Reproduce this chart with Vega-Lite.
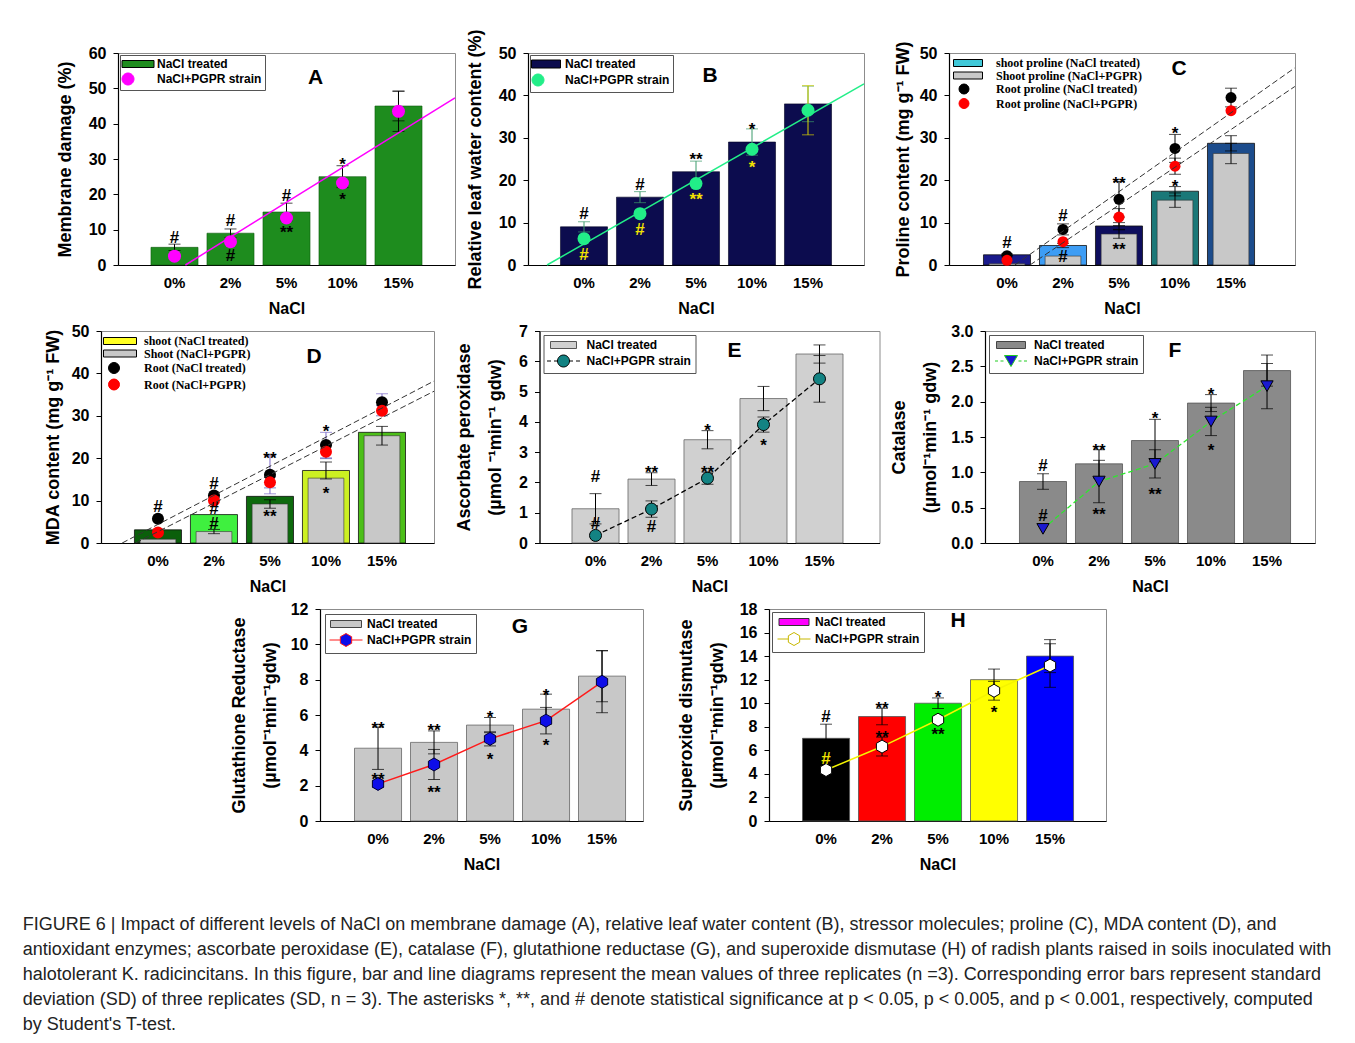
{
"$schema": "https://vega.github.io/schema/vega-lite/v6.json",
"padding": {"left": 22, "top": 28, "right": 5, "bottom": 5},
"datasets": {
"A": [
{"nacl":"0%","bar":5,"be":0.9,"pt":2.5,"pe":0},
{"nacl":"2%","bar":9,"be":1.2,"pt":6.6,"pe":0},
{"nacl":"5%","bar":15,"be":2.5,"pt":13.3,"pe":0},
{"nacl":"10%","bar":25,"be":3.1,"pt":23.2,"pe":0},
{"nacl":"15%","bar":45,"be":4.2,"pt":43.5,"pe":5.7}],
"Aa": [
{"nacl":"0%","y":7.6,"t":"#","g":"k"},
{"nacl":"2%","y":12.4,"t":"#","g":"k"},
{"nacl":"2%","y":2.5,"t":"#","g":"k"},
{"nacl":"5%","y":19.6,"t":"#","g":"k"},
{"nacl":"5%","y":10.5,"t":"**","g":"k"},
{"nacl":"10%","y":29.7,"t":"*","g":"k"},
{"nacl":"10%","y":19.9,"t":"*","g":"k"},
{"nacl":"5%","y":52.9,"t":"A","g":"L"}],
"Al": [{"u":1.2,"v":0},{"u":6,"v":47.3}],
"B": [
{"nacl":"0%","bar":9,"be":1.2,"pt":6.2,"pe":0},
{"nacl":"2%","bar":16,"be":1.3,"pt":12.1,"pe":0},
{"nacl":"5%","bar":22,"be":2.5,"pt":19.2,"pe":0},
{"nacl":"10%","bar":29,"be":3.1,"pt":27.3,"pe":0},
{"nacl":"15%","bar":38,"be":4.2,"pt":36.5,"pe":5.8}],
"Ba": [
{"nacl":"0%","y":12.1,"t":"#","g":"k"},{"nacl":"0%","y":2.3,"t":"#","g":"y"},
{"nacl":"2%","y":18.8,"t":"#","g":"k"},{"nacl":"2%","y":8.3,"t":"#","g":"y"},
{"nacl":"5%","y":25.9,"t":"**","g":"k"},{"nacl":"5%","y":16.4,"t":"**","g":"y"},
{"nacl":"10%","y":33.1,"t":"*","g":"k"},{"nacl":"10%","y":24.1,"t":"*","g":"y"},
{"nacl":"5%","y":44.6,"t":"B","g":"L"}],
"Bl": [{"u":0.34,"v":0},{"u":6,"v":42.7}],
"C": [
{"nacl":"0%","out":2.4,"oe":0.2,"inn":0.3,"ie":0,"r1":2.2,"r1e":0,"r2":1.1,"r2e":0},
{"nacl":"2%","out":4.6,"oe":0.5,"inn":2.1,"ie":0,"r1":8.4,"r1e":1.3,"r2":5.5,"r2e":0},
{"nacl":"5%","out":9.2,"oe":0.8,"inn":7.3,"ie":1.0,"r1":15.5,"r1e":4.2,"r2":11.3,"r2e":2.0},
{"nacl":"10%","out":17.4,"oe":1.1,"inn":15.3,"ie":1.7,"r1":27.5,"r1e":3.3,"r2":23.3,"r2e":1.9},
{"nacl":"15%","out":28.7,"oe":1.8,"inn":26.3,"ie":2.4,"r1":39.5,"r1e":2.2,"r2":36.4,"r2e":0}],
"Ca": [
{"nacl":"0%","y":5.1,"t":"#","g":"k"},
{"nacl":"2%","y":11.6,"t":"#","g":"k"},{"nacl":"2%","y":2.0,"t":"#","g":"k"},
{"nacl":"5%","y":20.3,"t":"**","g":"k"},{"nacl":"5%","y":4.7,"t":"**","g":"k"},
{"nacl":"10%","y":32.1,"t":"*","g":"k"},{"nacl":"10%","y":19.6,"t":"*","g":"k"},
{"nacl":"10%","y":46.2,"t":"C","g":"L"}],
"Cl": [{"k":"u","u":1.14,"v":0},{"k":"u","u":6.14,"v":46.5},{"k":"l","u":1.41,"v":0},{"k":"l","u":6.14,"v":42.1}],
"D": [
{"nacl":"0%","out":3.1,"oe":0,"inn":0.9,"ie":0,"r1":5.7,"r1e":0,"r2":2.5,"r2e":0},
{"nacl":"2%","out":6.7,"oe":0,"inn":2.7,"ie":0.5,"r1":11.2,"r1e":0,"r2":10.0,"r2e":0},
{"nacl":"5%","out":11.0,"oe":0,"inn":9.2,"ie":1.0,"r1":16.1,"r1e":4.5,"r2":14.3,"r2e":1.3},
{"nacl":"10%","out":17.1,"oe":2.0,"inn":15.3,"ie":0,"r1":23.1,"r1e":3.0,"r2":21.5,"r2e":1.6},
{"nacl":"15%","out":26.1,"oe":0,"inn":25.3,"ie":2.2,"r1":33.2,"r1e":2.0,"r2":31.2,"r2e":1.2}],
"Da": [
{"nacl":"0%","y":8.4,"t":"#","g":"k"},
{"nacl":"2%","y":13.9,"t":"#","g":"k"},{"nacl":"2%","y":8.0,"t":"#","g":"k"},{"nacl":"2%","y":4.5,"t":"#","g":"k"},
{"nacl":"5%","y":21.0,"t":"**","g":"k"},{"nacl":"5%","y":7.2,"t":"**","g":"k"},
{"nacl":"10%","y":27.3,"t":"*","g":"k"},{"nacl":"10%","y":12.7,"t":"*","g":"k"},
{"nacl":"5%","y":43.9,"t":"D","g":"L"}],
"Dl": [{"k":"u","u":0.36,"v":0},{"k":"u","u":5.93,"v":38.2},{"k":"l","u":0.6,"v":0},{"k":"l","u":5.93,"v":35.8}],
"E": [
{"nacl":"0%","bar":1.13,"be":0.5,"pt":0.25,"pe":0},
{"nacl":"2%","bar":2.11,"be":0.21,"pt":1.12,"pe":0.27},
{"nacl":"5%","bar":3.41,"be":0.3,"pt":2.14,"pe":0.2},
{"nacl":"10%","bar":4.77,"be":0.4,"pt":3.91,"pe":0.25},
{"nacl":"15%","bar":6.24,"be":0.3,"pt":5.42,"pe":0.77}],
"Ea": [
{"nacl":"0%","y":2.17,"t":"#","g":"k"},{"nacl":"0%","y":0.62,"t":"#","g":"k"},
{"nacl":"2%","y":2.48,"t":"**","g":"k"},{"nacl":"2%","y":0.52,"t":"#","g":"k"},
{"nacl":"5%","y":3.85,"t":"*","g":"k"},{"nacl":"5%","y":2.48,"t":"**","g":"k"},
{"nacl":"10%","y":3.38,"t":"*","g":"k"},
{"nacl":"5%","y":6.34,"t":"E","g":"L"}],
"F": [
{"nacl":"0%","bar":0.87,"be":0.11,"pt":0.2,"pe":0},
{"nacl":"2%","bar":1.12,"be":0.2,"pt":0.87,"pe":0.3},
{"nacl":"5%","bar":1.45,"be":0.3,"pt":1.12,"pe":0.2},
{"nacl":"10%","bar":1.98,"be":0.12,"pt":1.72,"pe":0.2},
{"nacl":"15%","bar":2.44,"be":0.22,"pt":2.22,"pe":0.32}],
"Fa": [
{"nacl":"0%","y":1.09,"t":"#","g":"k"},{"nacl":"0%","y":0.38,"t":"#","g":"k"},
{"nacl":"2%","y":1.37,"t":"**","g":"k"},{"nacl":"2%","y":0.46,"t":"**","g":"k"},
{"nacl":"5%","y":1.82,"t":"*","g":"k"},{"nacl":"5%","y":0.75,"t":"**","g":"k"},
{"nacl":"10%","y":2.17,"t":"*","g":"k"},{"nacl":"10%","y":1.37,"t":"*","g":"k"},
{"nacl":"5%","y":2.72,"t":"F","g":"L"}],
"G": [
{"nacl":"0%","bar":4.12,"be":1.2,"pt":2.1,"pe":0.2},
{"nacl":"2%","bar":4.45,"be":0.65,"pt":3.2,"pe":0.85},
{"nacl":"5%","bar":5.43,"be":0.43,"pt":4.65,"pe":0.4},
{"nacl":"10%","bar":6.33,"be":0.85,"pt":5.68,"pe":0.75},
{"nacl":"15%","bar":8.2,"be":1.45,"pt":7.88,"pe":1.75}],
"Ga": [
{"nacl":"0%","y":5.5,"t":"**","g":"k"},{"nacl":"0%","y":2.6,"t":"**","g":"k"},
{"nacl":"2%","y":5.35,"t":"**","g":"k"},{"nacl":"2%","y":1.86,"t":"**","g":"k"},
{"nacl":"5%","y":6.1,"t":"*","g":"k"},{"nacl":"5%","y":3.74,"t":"*","g":"k"},
{"nacl":"10%","y":7.36,"t":"*","g":"k"},{"nacl":"10%","y":4.55,"t":"*","g":"k"},
{"nacl":"5%","y":10.99,"t":"G","g":"L"}],
"H": [
{"nacl":"0%","bar":7.02,"be":1.2,"pt":4.33,"pe":0},
{"nacl":"2%","bar":8.87,"be":0.7,"pt":6.32,"pe":0.8},
{"nacl":"5%","bar":10.0,"be":0.45,"pt":8.6,"pe":0},
{"nacl":"10%","bar":12.0,"be":0.9,"pt":11.06,"pe":0.8},
{"nacl":"15%","bar":14.0,"be":1.4,"pt":13.2,"pe":1.85}],
"Ha": [
{"nacl":"0%","y":8.8,"t":"#","g":"k"},{"nacl":"0%","y":5.3,"t":"#","g":"y"},
{"nacl":"2%","y":9.9,"t":"**","g":"k"},{"nacl":"2%","y":7.5,"t":"**","g":"k"},
{"nacl":"5%","y":10.9,"t":"*","g":"k"},{"nacl":"5%","y":7.7,"t":"**","g":"k"},
{"nacl":"10%","y":9.6,"t":"*","g":"k"},
{"nacl":"5%","y":16.98,"t":"H","g":"L"}]
},
"title": {
"text": [
"FIGURE 6 | Impact of different levels of NaCl on membrane damage (A), relative leaf water content (B), stressor molecules; proline (C), MDA content (D), and",
"antioxidant enzymes; ascorbate peroxidase (E), catalase (F), glutathione reductase (G), and superoxide dismutase (H) of radish plants raised in soils inoculated with",
"halotolerant K. radicincitans. In this figure, bar and line diagrams represent the mean values of three replicates (n =3). Corresponding error bars represent standard",
"deviation (SD) of three replicates (SD, n = 3). The asterisks *, **, and # denote statistical significance at p < 0.05, p < 0.005, and p < 0.001, respectively, computed",
"by Student's T-test."],
"orient": "bottom", "anchor": "start", "frame": "bounds", "align": "left", "baseline": "top",
"font": "Liberation Sans", "fontSize": 18, "fontWeight": "normal", "color": "#222",
"lineHeight": 25, "offset": 43, "dx": -21
},
"spacing": 5,
"resolve": {"scale": {"x":"independent","y":"independent","color":"independent","fill":"independent","shape":"independent","stroke":"independent"}},
"vconcat": [
{"bounds": "flush", "spacing": 10,
"resolve": {"scale": {"x":"independent","y":"independent","color":"independent","fill":"independent","shape":"independent","stroke":"independent"}},
"hconcat": [
{"width": 7, "height": 10, "data": {"values": []}, "mark": "point", "view": {"stroke": null}},
{"bounds": "flush", "spacing": 73,
"resolve": {"scale": {"x":"independent","y":"independent","color":"independent","fill":"independent","shape":"independent","stroke":"independent"}},
"hconcat": [
{
"width": 337, "height": 212,
"layer": [
{"data": {"name": "A"},
"encoding": {"x": {"field": "nacl", "type": "nominal", "scale": {"domain": ["0%","2%","5%","10%","15%"], "paddingInner": 0.16, "paddingOuter": 0.589, "align": 0.5}, "axis": {"title": "NaCl"}}},
"layer": [
{"mark": {"type": "bar", "opacity": 1, "stroke": "#0d5a0d", "strokeWidth": 0.6},
"encoding": {"y": {"field": "bar", "type": "quantitative", "title": "Membrane damage (%)", "scale": {"domain": [0,60], "nice": false}, "axis": {"values": [0,10,20,30,40,50,60], "titlePadding": 14, "labelOverlap": false}},
"color": {"datum": "NaCl treated", "scale": {"domain": ["NaCl treated","NaCl+PGPR strain"], "range": ["#1e8c1e","#ff00ff"]}}}},
{"transform": [{"filter": "datum.be > 0"}], "mark": {"type": "errorbar", "color": "#000", "thickness": 1, "ticks": {"size": 12, "color": "#000"}},
"encoding": {"y": {"field": "bar", "type": "quantitative", "title": "Membrane damage (%)", "axis": {"values": [0,10,20,30,40,50,60], "titlePadding": 14, "labelOverlap": false}}, "yError": {"field": "be"}}},
{"transform": [{"filter": "datum.pe > 0"}], "mark": {"type": "errorbar", "color": "#000", "thickness": 1, "ticks": {"size": 12, "color": "#000"}},
"encoding": {"y": {"field": "pt", "type": "quantitative", "title": "Membrane damage (%)", "axis": {"values": [0,10,20,30,40,50,60], "titlePadding": 14, "labelOverlap": false}}, "yError": {"field": "pe"}}},
{"mark": {"type": "point", "filled": true, "shape": "circle", "size": 169, "opacity": 1},
"encoding": {"y": {"field": "pt", "type": "quantitative", "title": "Membrane damage (%)", "axis": {"values": [0,10,20,30,40,50,60], "titlePadding": 14, "labelOverlap": false}},
"color": {"datum": "NaCl+PGPR strain", "scale": {"domain": ["NaCl treated","NaCl+PGPR strain"], "range": ["#1e8c1e","#ff00ff"]}}}},
{"data": {"name": "Aa"}, "transform": [{"filter": "datum.t == '#'"}], "mark": {"type": "text", "fontSize": 17, "fontWeight": "bold", "baseline": "middle"},
"encoding": {"y": {"field": "y", "type": "quantitative", "title": "Membrane damage (%)", "axis": {"values": [0,10,20,30,40,50,60], "titlePadding": 14, "labelOverlap": false}}, "text": {"field": "t"}, "color": {"condition": {"test": "datum.g == 'y'", "value": "#f2e200"}, "value": "#000"}}},
{"data": {"name": "Aa"}, "transform": [{"filter": "datum.t == '*' || datum.t == '**'"}], "mark": {"type": "text", "fontSize": 17, "fontWeight": "bold", "baseline": "middle", "dy": 5},
"encoding": {"y": {"field": "y", "type": "quantitative", "title": "Membrane damage (%)", "axis": {"values": [0,10,20,30,40,50,60], "titlePadding": 14, "labelOverlap": false}}, "text": {"field": "t"}, "color": {"condition": {"test": "datum.g == 'y'", "value": "#f2e200"}, "value": "#000"}}},
{"data": {"name": "Aa"}, "transform": [{"filter": "datum.g == 'L'"}], "mark": {"type": "text", "fontSize": 21, "fontWeight": "bold", "baseline": "middle", "dx": 29},
"encoding": {"y": {"field": "y", "type": "quantitative", "title": "Membrane damage (%)", "axis": {"values": [0,10,20,30,40,50,60], "titlePadding": 14, "labelOverlap": false}}, "text": {"field": "t"}}},
{"data": {"values": []}, "mark": {"type": "point", "filled": true, "opacity": 1, "size": 100},
"encoding": {
"color": {"field": "s", "type": "nominal", "scale": {"domain": ["NaCl treated","NaCl+PGPR strain"], "range": ["#1e8c1e","#ff00ff"]}, "legend": {"title": null, "orient": "top-left", "offset": 2, "padding": 3, "symbolOffset": 9, "labelOffset": 13, "rowPadding": 1, "strokeColor": "#555", "fillColor": "#fff"}},
"shape": {"field": "s", "type": "nominal", "scale": {"domain": ["NaCl treated","NaCl+PGPR strain"], "range": ["M-3.2,-0.7H3.2V0.7H-3.2Z", "M-0.8,0A1.2,1.2 0 1,1 -3.2,0A1.2,1.2 0 1,1 -0.8,0Z"]}, "legend": {"title": null, "orient": "top-left", "offset": 2, "padding": 3, "symbolOffset": 9, "labelOffset": 13, "rowPadding": 1, "strokeColor": "#555", "fillColor": "#fff"}},
"stroke": {"field": "s", "type": "nominal", "scale": {"domain": ["NaCl treated","NaCl+PGPR strain"], "range": ["#000","#ff00ff"]}, "legend": {"title": null, "orient": "top-left", "offset": 2, "padding": 3, "symbolOffset": 9, "labelOffset": 13, "rowPadding": 1, "strokeColor": "#555", "fillColor": "#fff"}}}}
]},
{"data": {"name": "Al"}, "mark": {"type": "line", "color": "#ff00ff", "strokeWidth": 1.5},
"encoding": {"x": {"field": "u", "type": "quantitative", "scale": {"domain": [0,6], "nice": false, "zero": false}, "axis": null}, "y": {"field": "v", "type": "quantitative", "title": "Membrane damage (%)", "axis": {"values": [0,10,20,30,40,50,60], "titlePadding": 14, "labelOverlap": false}}}}
],
"resolve": {"scale": {"x": "independent"}}
},
{"bounds": "flush", "spacing": 85,
"resolve": {"scale": {"x":"independent","y":"independent","color":"independent","fill":"independent","shape":"independent","stroke":"independent"}},
"hconcat": [
{
"width": 336, "height": 212,
"layer": [
{"data": {"name": "B"},
"encoding": {"x": {"field": "nacl", "type": "nominal", "scale": {"domain": ["0%","2%","5%","10%","15%"], "paddingInner": 0.16, "paddingOuter": 0.58, "align": 0.5}, "axis": {"title": "NaCl"}}},
"layer": [
{"mark": {"type": "bar", "opacity": 1, "stroke": "#000022", "strokeWidth": 0.6},
"encoding": {"y": {"field": "bar", "type": "quantitative", "title": "Relative leaf water content (%)", "scale": {"domain": [0,50], "nice": false}, "axis": {"values": [0,10,20,30,40,50], "titlePadding": 14, "labelOverlap": false}},
"color": {"datum": "NaCl treated", "scale": {"domain": ["NaCl treated","NaCl+PGPR strain"], "range": ["#0c0c4e","#22ee88"]}}}},
{"transform": [{"filter": "datum.be > 0"}], "mark": {"type": "errorbar", "color": "#3a9a6a", "thickness": 1, "ticks": {"size": 12, "color": "#3a9a6a"}},
"encoding": {"y": {"field": "bar", "type": "quantitative", "title": "Relative leaf water content (%)", "axis": {"values": [0,10,20,30,40,50], "titlePadding": 14, "labelOverlap": false}}, "yError": {"field": "be"}}},
{"transform": [{"filter": "datum.pe > 0"}], "mark": {"type": "errorbar", "color": "#d8d000", "thickness": 1, "ticks": {"size": 12, "color": "#d8d000"}},
"encoding": {"y": {"field": "pt", "type": "quantitative", "title": "Relative leaf water content (%)", "axis": {"values": [0,10,20,30,40,50], "titlePadding": 14, "labelOverlap": false}}, "yError": {"field": "pe"}}},
{"mark": {"type": "point", "filled": true, "shape": "circle", "size": 169, "opacity": 1},
"encoding": {"y": {"field": "pt", "type": "quantitative", "title": "Relative leaf water content (%)", "axis": {"values": [0,10,20,30,40,50], "titlePadding": 14, "labelOverlap": false}},
"color": {"datum": "NaCl+PGPR strain", "scale": {"domain": ["NaCl treated","NaCl+PGPR strain"], "range": ["#0c0c4e","#22ee88"]}}}},
{"data": {"name": "Ba"}, "transform": [{"filter": "datum.t == '#'"}], "mark": {"type": "text", "fontSize": 17, "fontWeight": "bold", "baseline": "middle"},
"encoding": {"y": {"field": "y", "type": "quantitative", "title": "Relative leaf water content (%)", "axis": {"values": [0,10,20,30,40,50], "titlePadding": 14, "labelOverlap": false}}, "text": {"field": "t"}, "color": {"condition": {"test": "datum.g == 'y'", "value": "#f2e200"}, "value": "#000"}}},
{"data": {"name": "Ba"}, "transform": [{"filter": "datum.t == '*' || datum.t == '**'"}], "mark": {"type": "text", "fontSize": 17, "fontWeight": "bold", "baseline": "middle", "dy": 5},
"encoding": {"y": {"field": "y", "type": "quantitative", "title": "Relative leaf water content (%)", "axis": {"values": [0,10,20,30,40,50], "titlePadding": 14, "labelOverlap": false}}, "text": {"field": "t"}, "color": {"condition": {"test": "datum.g == 'y'", "value": "#f2e200"}, "value": "#000"}}},
{"data": {"name": "Ba"}, "transform": [{"filter": "datum.g == 'L'"}], "mark": {"type": "text", "fontSize": 21, "fontWeight": "bold", "baseline": "middle", "dx": 14},
"encoding": {"y": {"field": "y", "type": "quantitative", "title": "Relative leaf water content (%)", "axis": {"values": [0,10,20,30,40,50], "titlePadding": 14, "labelOverlap": false}}, "text": {"field": "t"}}},
{"data": {"values": []}, "mark": {"type": "point", "filled": true, "opacity": 1, "size": 100},
"encoding": {
"color": {"field": "s", "type": "nominal", "scale": {"domain": ["NaCl treated","NaCl+PGPR strain"], "range": ["#0c0c4e","#22ee88"]}, "legend": {"title": null, "orient": "top-left", "offset": 2, "padding": 3, "symbolOffset": 7, "labelOffset": 13, "rowPadding": 1, "strokeColor": "#555", "fillColor": "#fff"}},
"shape": {"field": "s", "type": "nominal", "scale": {"domain": ["NaCl treated","NaCl+PGPR strain"], "range": ["M-2.9,-0.8H2.9V0.8H-2.9Z", "M-0.4,0A1.2,1.2 0 1,1 -2.8,0A1.2,1.2 0 1,1 -0.4,0Z"]}, "legend": {"title": null, "orient": "top-left", "offset": 2, "padding": 3, "symbolOffset": 7, "labelOffset": 13, "rowPadding": 1, "strokeColor": "#555", "fillColor": "#fff"}},
"stroke": {"field": "s", "type": "nominal", "scale": {"domain": ["NaCl treated","NaCl+PGPR strain"], "range": ["#000","#22ee88"]}, "legend": {"title": null, "orient": "top-left", "offset": 2, "padding": 3, "symbolOffset": 7, "labelOffset": 13, "rowPadding": 1, "strokeColor": "#555", "fillColor": "#fff"}}}}
]},
{"data": {"name": "Bl"}, "mark": {"type": "line", "color": "#22ee88", "strokeWidth": 1.5},
"encoding": {"x": {"field": "u", "type": "quantitative", "scale": {"domain": [0,6], "nice": false, "zero": false}, "axis": null}, "y": {"field": "v", "type": "quantitative", "title": "Relative leaf water content (%)", "axis": {"values": [0,10,20,30,40,50], "titlePadding": 14, "labelOverlap": false}}}}
],
"resolve": {"scale": {"x": "independent"}}
},
{
"width": 346, "height": 212,
"layer": [
{"data": {"name": "C"},
"encoding": {"x": {"field": "nacl", "type": "nominal", "scale": {"domain": ["0%","2%","5%","10%","15%"], "paddingInner": 0.16, "paddingOuter": 0.669, "align": 0.46}, "axis": {"title": "NaCl"}}},
"layer": [
{"mark": {"type": "bar", "opacity": 1, "stroke": "#111", "strokeWidth": 0.8},
"encoding": {"y": {"field": "out", "type": "quantitative", "title": "Proline content (mg g⁻¹ FW)", "scale": {"domain": [0,50], "nice": false}, "axis": {"values": [0,10,20,30,40,50], "titlePadding": 7, "labelOverlap": false}},
"fill": {"field": "nacl", "type": "nominal", "scale": {"domain": ["0%","2%","5%","10%","15%"], "range": ["#1a1a8c","#3d9df5","#0e0e5e","#1b7878","#1c4c8c"]}, "legend": null}}},
{"mark": {"type": "bar", "opacity": 1, "width": {"band": 0.76}, "stroke": "#333", "strokeWidth": 0.6},
"encoding": {"y": {"field": "inn", "type": "quantitative", "title": "Proline content (mg g⁻¹ FW)", "axis": {"values": [0,10,20,30,40,50], "titlePadding": 7, "labelOverlap": false}},
"color": {"datum": "Shoot proline (NaCl+PGPR)", "scale": {"domain": ["shoot proline (NaCl treated)","Shoot proline (NaCl+PGPR)","Root proline (NaCl treated)","Root proline (NaCl+PGPR)"], "range": ["#40c8d8","#c8c8c8","#000000","#ff0000"]}}}},
{"transform": [{"filter": "datum.oe > 0"}], "mark": {"type": "errorbar", "color": "#000", "thickness": 1, "ticks": {"size": 12, "color": "#000"}},
"encoding": {"y": {"field": "out", "type": "quantitative", "title": "Proline content (mg g⁻¹ FW)", "axis": {"values": [0,10,20,30,40,50], "titlePadding": 7, "labelOverlap": false}}, "yError": {"field": "oe"}}},
{"transform": [{"filter": "datum.ie > 0"}], "mark": {"type": "errorbar", "color": "#000", "thickness": 1, "ticks": {"size": 12, "color": "#000"}},
"encoding": {"y": {"field": "inn", "type": "quantitative", "title": "Proline content (mg g⁻¹ FW)", "axis": {"values": [0,10,20,30,40,50], "titlePadding": 7, "labelOverlap": false}}, "yError": {"field": "ie"}}},
{"transform": [{"filter": "datum.r1e > 0"}], "mark": {"type": "errorbar", "color": "#000", "thickness": 1, "ticks": {"size": 12, "color": "#000"}},
"encoding": {"y": {"field": "r1", "type": "quantitative", "title": "Proline content (mg g⁻¹ FW)", "axis": {"values": [0,10,20,30,40,50], "titlePadding": 7, "labelOverlap": false}}, "yError": {"field": "r1e"}}},
{"transform": [{"filter": "datum.r2e > 0"}], "mark": {"type": "errorbar", "color": "#000", "thickness": 1, "ticks": {"size": 12, "color": "#000"}},
"encoding": {"y": {"field": "r2", "type": "quantitative", "title": "Proline content (mg g⁻¹ FW)", "axis": {"values": [0,10,20,30,40,50], "titlePadding": 7, "labelOverlap": false}}, "yError": {"field": "r2e"}}},
{"mark": {"type": "point", "filled": true, "shape": "circle", "size": 121, "opacity": 1},
"encoding": {"y": {"field": "r1", "type": "quantitative", "title": "Proline content (mg g⁻¹ FW)", "axis": {"values": [0,10,20,30,40,50], "titlePadding": 7, "labelOverlap": false}},
"color": {"datum": "Root proline (NaCl treated)", "scale": {"domain": ["shoot proline (NaCl treated)","Shoot proline (NaCl+PGPR)","Root proline (NaCl treated)","Root proline (NaCl+PGPR)"], "range": ["#40c8d8","#c8c8c8","#000000","#ff0000"]}}}},
{"mark": {"type": "point", "filled": true, "shape": "circle", "size": 121, "opacity": 1},
"encoding": {"y": {"field": "r2", "type": "quantitative", "title": "Proline content (mg g⁻¹ FW)", "axis": {"values": [0,10,20,30,40,50], "titlePadding": 7, "labelOverlap": false}},
"color": {"datum": "Root proline (NaCl+PGPR)", "scale": {"domain": ["shoot proline (NaCl treated)","Shoot proline (NaCl+PGPR)","Root proline (NaCl treated)","Root proline (NaCl+PGPR)"], "range": ["#40c8d8","#c8c8c8","#000000","#ff0000"]}}}},
{"data": {"name": "Ca"}, "transform": [{"filter": "datum.t == '#'"}], "mark": {"type": "text", "fontSize": 17, "fontWeight": "bold", "baseline": "middle"},
"encoding": {"y": {"field": "y", "type": "quantitative", "title": "Proline content (mg g⁻¹ FW)", "axis": {"values": [0,10,20,30,40,50], "titlePadding": 7, "labelOverlap": false}}, "text": {"field": "t"}, "color": {"condition": {"test": "datum.g == 'y'", "value": "#f2e200"}, "value": "#000"}}},
{"data": {"name": "Ca"}, "transform": [{"filter": "datum.t == '*' || datum.t == '**'"}], "mark": {"type": "text", "fontSize": 17, "fontWeight": "bold", "baseline": "middle", "dy": 5},
"encoding": {"y": {"field": "y", "type": "quantitative", "title": "Proline content (mg g⁻¹ FW)", "axis": {"values": [0,10,20,30,40,50], "titlePadding": 7, "labelOverlap": false}}, "text": {"field": "t"}, "color": {"condition": {"test": "datum.g == 'y'", "value": "#f2e200"}, "value": "#000"}}},
{"data": {"name": "Ca"}, "transform": [{"filter": "datum.g == 'L'"}], "mark": {"type": "text", "fontSize": 21, "fontWeight": "bold", "baseline": "middle", "dx": 4},
"encoding": {"y": {"field": "y", "type": "quantitative", "title": "Proline content (mg g⁻¹ FW)", "axis": {"values": [0,10,20,30,40,50], "titlePadding": 7, "labelOverlap": false}}, "text": {"field": "t"}}},
{"data": {"values": []}, "mark": {"type": "point", "filled": true, "opacity": 1, "size": 100},
"encoding": {
"color": {"field": "s", "type": "nominal", "scale": {"domain": ["shoot proline (NaCl treated)","Shoot proline (NaCl+PGPR)","Root proline (NaCl treated)","Root proline (NaCl+PGPR)"], "range": ["#40c8d8","#c8c8c8","#000000","#ff0000"]}, "legend": {"title": null, "orient": "top-left", "offset": 4, "padding": 0, "symbolOffset": 9, "labelOffset": 22, "rowPadding": 0.5, "strokeColor": "transparent", "fillColor": "transparent", "labelFont": "Liberation Serif", "labelFontSize": 12}},
"shape": {"field": "s", "type": "nominal", "scale": {"domain": ["shoot proline (NaCl treated)","Shoot proline (NaCl+PGPR)","Root proline (NaCl treated)","Root proline (NaCl+PGPR)"], "range": ["M-2.9,-0.7H2.9V0.7H-2.9Z","M-2.9,-0.7H2.9V0.7H-2.9Z","M0.2,0A1,1 0 1,1 -1.8,0A1,1 0 1,1 0.2,0Z","M0.2,0A1,1 0 1,1 -1.8,0A1,1 0 1,1 0.2,0Z"]}, "legend": {"title": null, "orient": "top-left", "offset": 4, "padding": 0, "symbolOffset": 9, "labelOffset": 22, "rowPadding": 0.5, "strokeColor": "transparent", "fillColor": "transparent", "labelFont": "Liberation Serif", "labelFontSize": 12}},
"stroke": {"field": "s", "type": "nominal", "scale": {"domain": ["shoot proline (NaCl treated)","Shoot proline (NaCl+PGPR)","Root proline (NaCl treated)","Root proline (NaCl+PGPR)"], "range": ["#000","#000","#000","#ff0000"]}, "legend": {"title": null, "orient": "top-left", "offset": 4, "padding": 0, "symbolOffset": 9, "labelOffset": 22, "rowPadding": 0.5, "strokeColor": "transparent", "fillColor": "transparent", "labelFont": "Liberation Serif", "labelFontSize": 12}}}}
]},
{"data": {"name": "Cl"}, "mark": {"type": "line", "color": "#333", "strokeWidth": 1, "strokeDash": [6,3]},
"encoding": {"x": {"field": "u", "type": "quantitative", "scale": {"domain": [-0.036,6.143], "nice": false, "zero": false}, "axis": null}, "y": {"field": "v", "type": "quantitative", "title": "Proline content (mg g⁻¹ FW)", "axis": {"values": [0,10,20,30,40,50], "titlePadding": 7, "labelOverlap": false}}, "detail": {"field": "k"}}}
],
"resolve": {"scale": {"x": "independent"}}
}
]}
]}
]},
{"bounds": "flush", "spacing": 105.5,
"resolve": {"scale": {"x":"independent","y":"independent","color":"independent","fill":"independent","shape":"independent","stroke":"independent"}},
"hconcat": [
{
"width": 333, "height": 212,
"layer": [
{"data": {"name": "D"},
"encoding": {"x": {"field": "nacl", "type": "nominal", "scale": {"domain": ["0%","2%","5%","10%","15%"], "paddingInner": 0.16, "paddingOuter": 0.553, "align": 0.54}, "axis": {"title": "NaCl"}}},
"layer": [
{"mark": {"type": "bar", "opacity": 1, "stroke": "#111", "strokeWidth": 0.8},
"encoding": {"y": {"field": "out", "type": "quantitative", "title": "MDA content (mg g⁻¹ FW)", "scale": {"domain": [0,50], "nice": false}, "axis": {"values": [0,10,20,30,40,50], "titlePadding": 9, "labelOverlap": false}},
"fill": {"field": "nacl", "type": "nominal", "scale": {"domain": ["0%","2%","5%","10%","15%"], "range": ["#0b5f0b","#3ff03f","#0d6a0d","#ccf022","#4cbf18"]}, "legend": null}}},
{"mark": {"type": "bar", "opacity": 1, "width": {"band": 0.76}, "stroke": "#333", "strokeWidth": 0.6},
"encoding": {"y": {"field": "inn", "type": "quantitative", "title": "MDA content (mg g⁻¹ FW)", "axis": {"values": [0,10,20,30,40,50], "titlePadding": 9, "labelOverlap": false}},
"color": {"datum": "Shoot (NaCl+PGPR)", "scale": {"domain": ["shoot (NaCl treated)","Shoot (NaCl+PGPR)","Root (NaCl treated)","Root (NaCl+PGPR)"], "range": ["#ffff22","#c8c8c8","#000000","#ff0000"]}}}},
{"transform": [{"filter": "datum.oe > 0"}], "mark": {"type": "errorbar", "color": "#000", "thickness": 1, "ticks": {"size": 12, "color": "#000"}},
"encoding": {"y": {"field": "out", "type": "quantitative", "title": "MDA content (mg g⁻¹ FW)", "axis": {"values": [0,10,20,30,40,50], "titlePadding": 9, "labelOverlap": false}}, "yError": {"field": "oe"}}},
{"transform": [{"filter": "datum.ie > 0"}], "mark": {"type": "errorbar", "color": "#000", "thickness": 1, "ticks": {"size": 12, "color": "#000"}},
"encoding": {"y": {"field": "inn", "type": "quantitative", "title": "MDA content (mg g⁻¹ FW)", "axis": {"values": [0,10,20,30,40,50], "titlePadding": 9, "labelOverlap": false}}, "yError": {"field": "ie"}}},
{"transform": [{"filter": "datum.r1e > 0"}], "mark": {"type": "errorbar", "color": "#7b68c8", "thickness": 1, "ticks": {"size": 12, "color": "#7b68c8"}},
"encoding": {"y": {"field": "r1", "type": "quantitative", "title": "MDA content (mg g⁻¹ FW)", "axis": {"values": [0,10,20,30,40,50], "titlePadding": 9, "labelOverlap": false}}, "yError": {"field": "r1e"}}},
{"transform": [{"filter": "datum.r2e > 0"}], "mark": {"type": "errorbar", "color": "#4a4aa8", "thickness": 1, "ticks": {"size": 12, "color": "#4a4aa8"}},
"encoding": {"y": {"field": "r2", "type": "quantitative", "title": "MDA content (mg g⁻¹ FW)", "axis": {"values": [0,10,20,30,40,50], "titlePadding": 9, "labelOverlap": false}}, "yError": {"field": "r2e"}}},
{"mark": {"type": "point", "filled": true, "shape": "circle", "size": 144, "opacity": 1},
"encoding": {"y": {"field": "r1", "type": "quantitative", "title": "MDA content (mg g⁻¹ FW)", "axis": {"values": [0,10,20,30,40,50], "titlePadding": 9, "labelOverlap": false}},
"color": {"datum": "Root (NaCl treated)", "scale": {"domain": ["shoot (NaCl treated)","Shoot (NaCl+PGPR)","Root (NaCl treated)","Root (NaCl+PGPR)"], "range": ["#ffff22","#c8c8c8","#000000","#ff0000"]}}}},
{"mark": {"type": "point", "filled": true, "shape": "circle", "size": 144, "opacity": 1},
"encoding": {"y": {"field": "r2", "type": "quantitative", "title": "MDA content (mg g⁻¹ FW)", "axis": {"values": [0,10,20,30,40,50], "titlePadding": 9, "labelOverlap": false}},
"color": {"datum": "Root (NaCl+PGPR)", "scale": {"domain": ["shoot (NaCl treated)","Shoot (NaCl+PGPR)","Root (NaCl treated)","Root (NaCl+PGPR)"], "range": ["#ffff22","#c8c8c8","#000000","#ff0000"]}}}},
{"data": {"name": "Da"}, "transform": [{"filter": "datum.t == '#'"}], "mark": {"type": "text", "fontSize": 17, "fontWeight": "bold", "baseline": "middle"},
"encoding": {"y": {"field": "y", "type": "quantitative", "title": "MDA content (mg g⁻¹ FW)", "axis": {"values": [0,10,20,30,40,50], "titlePadding": 9, "labelOverlap": false}}, "text": {"field": "t"}, "color": {"condition": {"test": "datum.g == 'y'", "value": "#f2e200"}, "value": "#000"}}},
{"data": {"name": "Da"}, "transform": [{"filter": "datum.t == '*' || datum.t == '**'"}], "mark": {"type": "text", "fontSize": 17, "fontWeight": "bold", "baseline": "middle", "dy": 5},
"encoding": {"y": {"field": "y", "type": "quantitative", "title": "MDA content (mg g⁻¹ FW)", "axis": {"values": [0,10,20,30,40,50], "titlePadding": 9, "labelOverlap": false}}, "text": {"field": "t"}, "color": {"condition": {"test": "datum.g == 'y'", "value": "#f2e200"}, "value": "#000"}}},
{"data": {"name": "Da"}, "transform": [{"filter": "datum.g == 'L'"}], "mark": {"type": "text", "fontSize": 21, "fontWeight": "bold", "baseline": "middle", "dx": 44},
"encoding": {"y": {"field": "y", "type": "quantitative", "title": "MDA content (mg g⁻¹ FW)", "axis": {"values": [0,10,20,30,40,50], "titlePadding": 9, "labelOverlap": false}}, "text": {"field": "t"}}},
{"data": {"values": []}, "mark": {"type": "point", "filled": true, "opacity": 1, "size": 100},
"encoding": {
"color": {"field": "s", "type": "nominal", "scale": {"domain": ["shoot (NaCl treated)","Shoot (NaCl+PGPR)","Root (NaCl treated)","Root (NaCl+PGPR)"], "range": ["#ffff22","#c8c8c8","#000000","#ff0000"]}, "legend": {"title": null, "orient": "top-left", "offset": 4, "padding": 0, "symbolOffset": 9, "labelOffset": 18, "rowPadding": 0.5, "strokeColor": "transparent", "fillColor": "transparent", "labelFont": "Liberation Serif", "labelFontSize": 12}},
"shape": {"field": "s", "type": "nominal", "scale": {"domain": ["shoot (NaCl treated)","Shoot (NaCl+PGPR)","Root (NaCl treated)","Root (NaCl+PGPR)"], "range": ["M-3.3,-0.7H3.3V0.7H-3.3Z","M-3.3,-0.7H3.3V0.7H-3.3Z","M-0.1,0A1.1,1.1 0 1,1 -2.3,0A1.1,1.1 0 1,1 -0.1,0Z","M-0.1,0A1.1,1.1 0 1,1 -2.3,0A1.1,1.1 0 1,1 -0.1,0Z"]}, "legend": {"title": null, "orient": "top-left", "offset": 4, "padding": 0, "symbolOffset": 9, "labelOffset": 18, "rowPadding": 0.5, "strokeColor": "transparent", "fillColor": "transparent", "labelFont": "Liberation Serif", "labelFontSize": 12}},
"stroke": {"field": "s", "type": "nominal", "scale": {"domain": ["shoot (NaCl treated)","Shoot (NaCl+PGPR)","Root (NaCl treated)","Root (NaCl+PGPR)"], "range": ["#000","#000","#000","#ff0000"]}, "legend": {"title": null, "orient": "top-left", "offset": 4, "padding": 0, "symbolOffset": 9, "labelOffset": 18, "rowPadding": 0.5, "strokeColor": "transparent", "fillColor": "transparent", "labelFont": "Liberation Serif", "labelFontSize": 12}}}}
]},
{"data": {"name": "Dl"}, "mark": {"type": "line", "color": "#333", "strokeWidth": 1, "strokeDash": [6,3]},
"encoding": {"x": {"field": "u", "type": "quantitative", "scale": {"domain": [-0.018,5.929], "nice": false, "zero": false}, "axis": null}, "y": {"field": "v", "type": "quantitative", "title": "MDA content (mg g⁻¹ FW)", "axis": {"values": [0,10,20,30,40,50], "titlePadding": 9, "labelOverlap": false}}, "detail": {"field": "k"}}}
],
"resolve": {"scale": {"x": "independent"}}
},
{
"width": 340, "height": 212,
"data": {"name": "E"},
"encoding": {"x": {"field": "nacl", "type": "nominal", "scale": {"domain": ["0%","2%","5%","10%","15%"], "paddingInner": 0.16, "paddingOuter": 0.616, "align": 0.471}, "axis": {"title": "NaCl"}}},
"layer": [
{"mark": {"type": "bar", "opacity": 1, "stroke": "#666", "strokeWidth": 0.8},
"encoding": {"y": {"field": "bar", "type": "quantitative", "title": ["Ascorbate peroxidase", "(µmol ⁻¹min⁻¹ gdw)"], "scale": {"domain": [0,7], "nice": false}, "axis": {"values": [0,1,2,3,4,5,6,7], "titlePadding": 14, "labelOverlap": false}},
"color": {"datum": "NaCl treated", "scale": {"domain": ["NaCl treated","NaCl+PGPR strain"], "range": ["#d0d0d0","#138383"]}}}},
{"transform": [{"filter": "datum.be > 0"}], "mark": {"type": "errorbar", "color": "#000", "thickness": 1, "ticks": {"size": 12, "color": "#000"}},
"encoding": {"y": {"field": "bar", "type": "quantitative", "title": ["Ascorbate peroxidase", "(µmol ⁻¹min⁻¹ gdw)"], "axis": {"values": [0,1,2,3,4,5,6,7], "titlePadding": 14, "labelOverlap": false}}, "yError": {"field": "be"}}},
{"mark": {"type": "line", "color": "#000", "strokeWidth": 1.3, "strokeDash": [5,3]},
"encoding": {"y": {"field": "pt", "type": "quantitative", "title": ["Ascorbate peroxidase", "(µmol ⁻¹min⁻¹ gdw)"], "axis": {"values": [0,1,2,3,4,5,6,7], "titlePadding": 14, "labelOverlap": false}}}},
{"transform": [{"filter": "datum.pe > 0"}], "mark": {"type": "errorbar", "color": "#000", "thickness": 1, "ticks": {"size": 12, "color": "#000"}},
"encoding": {"y": {"field": "pt", "type": "quantitative", "title": ["Ascorbate peroxidase", "(µmol ⁻¹min⁻¹ gdw)"], "axis": {"values": [0,1,2,3,4,5,6,7], "titlePadding": 14, "labelOverlap": false}}, "yError": {"field": "pe"}}},
{"mark": {"type": "point", "filled": true, "shape": "circle", "size": 144, "opacity": 1, "stroke": "#000", "strokeWidth": 1},
"encoding": {"y": {"field": "pt", "type": "quantitative", "title": ["Ascorbate peroxidase", "(µmol ⁻¹min⁻¹ gdw)"], "axis": {"values": [0,1,2,3,4,5,6,7], "titlePadding": 14, "labelOverlap": false}},
"color": {"datum": "NaCl+PGPR strain", "scale": {"domain": ["NaCl treated","NaCl+PGPR strain"], "range": ["#d0d0d0","#138383"]}}}},
{"data": {"name": "Ea"}, "transform": [{"filter": "datum.t == '#'"}], "mark": {"type": "text", "fontSize": 17, "fontWeight": "bold", "baseline": "middle"},
"encoding": {"y": {"field": "y", "type": "quantitative", "title": ["Ascorbate peroxidase", "(µmol ⁻¹min⁻¹ gdw)"], "axis": {"values": [0,1,2,3,4,5,6,7], "titlePadding": 14, "labelOverlap": false}}, "text": {"field": "t"}, "color": {"condition": {"test": "datum.g == 'y'", "value": "#f2e200"}, "value": "#000"}}},
{"data": {"name": "Ea"}, "transform": [{"filter": "datum.t == '*' || datum.t == '**'"}], "mark": {"type": "text", "fontSize": 17, "fontWeight": "bold", "baseline": "middle", "dy": 5},
"encoding": {"y": {"field": "y", "type": "quantitative", "title": ["Ascorbate peroxidase", "(µmol ⁻¹min⁻¹ gdw)"], "axis": {"values": [0,1,2,3,4,5,6,7], "titlePadding": 14, "labelOverlap": false}}, "text": {"field": "t"}, "color": {"condition": {"test": "datum.g == 'y'", "value": "#f2e200"}, "value": "#000"}}},
{"data": {"name": "Ea"}, "transform": [{"filter": "datum.g == 'L'"}], "mark": {"type": "text", "fontSize": 21, "fontWeight": "bold", "baseline": "middle", "dx": 27},
"encoding": {"y": {"field": "y", "type": "quantitative", "title": ["Ascorbate peroxidase", "(µmol ⁻¹min⁻¹ gdw)"], "axis": {"values": [0,1,2,3,4,5,6,7], "titlePadding": 14, "labelOverlap": false}}, "text": {"field": "t"}}},
{"data": {"values": []}, "mark": {"type": "point", "filled": true, "opacity": 1, "size": 100},
"encoding": {
"color": {"field": "s", "type": "nominal", "scale": {"domain": ["NaCl treated","NaCl+PGPR strain"], "range": ["#d0d0d0","#138383"]}, "legend": {"title": null, "orient": "top-left", "offset": 4, "padding": 4, "symbolOffset": 10, "labelOffset": 17, "rowPadding": 2, "strokeColor": "#555", "fillColor": "#fff"}},
"shape": {"field": "s", "type": "nominal", "scale": {"domain": ["NaCl treated","NaCl+PGPR strain"], "range": ["M-2.6,-0.7H2.6V0.7H-2.6Z", "M-3.3,0H-2.5M-1.9,0H-1.25M1.25,0H1.9M2.5,0H3.3M1.2,0A1.2,1.2 0 1,1 -1.2,0A1.2,1.2 0 1,1 1.2,0Z"]}, "legend": {"title": null, "orient": "top-left", "offset": 4, "padding": 4, "symbolOffset": 10, "labelOffset": 17, "rowPadding": 2, "strokeColor": "#555", "fillColor": "#fff"}},
"stroke": {"field": "s", "type": "nominal", "scale": {"domain": ["NaCl treated","NaCl+PGPR strain"], "range": ["#555","#000"]}, "legend": {"title": null, "orient": "top-left", "offset": 4, "padding": 4, "symbolOffset": 10, "labelOffset": 17, "rowPadding": 2, "strokeColor": "#555", "fillColor": "#fff"}}}}
]
},
{
"width": 330, "height": 212,
"data": {"name": "F"},
"encoding": {"x": {"field": "nacl", "type": "nominal", "scale": {"domain": ["0%","2%","5%","10%","15%"], "paddingInner": 0.16, "paddingOuter": 0.526, "align": 0.585}, "axis": {"title": "NaCl"}}},
"layer": [
{"mark": {"type": "bar", "opacity": 1, "stroke": "#555", "strokeWidth": 0.8},
"encoding": {"y": {"field": "bar", "type": "quantitative", "title": ["Catalase", "(µmol⁻¹min⁻¹ gdw)"], "scale": {"domain": [0,3], "nice": false}, "axis": {"values": [0,0.5,1,1.5,2,2.5,3], "format": ".1f", "titlePadding": 11, "labelOverlap": false}},
"color": {"datum": "NaCl treated", "scale": {"domain": ["NaCl treated","NaCl+PGPR strain"], "range": ["#8a8a8a","#1a1ad0"]}}}},
{"transform": [{"filter": "datum.be > 0"}], "mark": {"type": "errorbar", "color": "#000", "thickness": 1, "ticks": {"size": 12, "color": "#000"}},
"encoding": {"y": {"field": "bar", "type": "quantitative", "title": ["Catalase", "(µmol⁻¹min⁻¹ gdw)"], "axis": {"values": [0,0.5,1,1.5,2,2.5,3], "format": ".1f", "titlePadding": 11, "labelOverlap": false}}, "yError": {"field": "be"}}},
{"mark": {"type": "line", "color": "#2ee62e", "strokeWidth": 1.3, "strokeDash": [5,3]},
"encoding": {"y": {"field": "pt", "type": "quantitative", "title": ["Catalase", "(µmol⁻¹min⁻¹ gdw)"], "axis": {"values": [0,0.5,1,1.5,2,2.5,3], "format": ".1f", "titlePadding": 11, "labelOverlap": false}}}},
{"transform": [{"filter": "datum.pe > 0"}], "mark": {"type": "errorbar", "color": "#000", "thickness": 1, "ticks": {"size": 12, "color": "#000"}},
"encoding": {"y": {"field": "pt", "type": "quantitative", "title": ["Catalase", "(µmol⁻¹min⁻¹ gdw)"], "axis": {"values": [0,0.5,1,1.5,2,2.5,3], "format": ".1f", "titlePadding": 11, "labelOverlap": false}}, "yError": {"field": "pe"}}},
{"mark": {"type": "point", "filled": true, "shape": "triangle-down", "size": 150, "opacity": 1, "stroke": "#000", "strokeWidth": 1},
"encoding": {"y": {"field": "pt", "type": "quantitative", "title": ["Catalase", "(µmol⁻¹min⁻¹ gdw)"], "axis": {"values": [0,0.5,1,1.5,2,2.5,3], "format": ".1f", "titlePadding": 11, "labelOverlap": false}},
"color": {"datum": "NaCl+PGPR strain", "scale": {"domain": ["NaCl treated","NaCl+PGPR strain"], "range": ["#8a8a8a","#1a1ad0"]}}}},
{"data": {"name": "Fa"}, "transform": [{"filter": "datum.t == '#'"}], "mark": {"type": "text", "fontSize": 17, "fontWeight": "bold", "baseline": "middle"},
"encoding": {"y": {"field": "y", "type": "quantitative", "title": ["Catalase", "(µmol⁻¹min⁻¹ gdw)"], "axis": {"values": [0,0.5,1,1.5,2,2.5,3], "format": ".1f", "titlePadding": 11, "labelOverlap": false}}, "text": {"field": "t"}, "color": {"condition": {"test": "datum.g == 'y'", "value": "#f2e200"}, "value": "#000"}}},
{"data": {"name": "Fa"}, "transform": [{"filter": "datum.t == '*' || datum.t == '**'"}], "mark": {"type": "text", "fontSize": 17, "fontWeight": "bold", "baseline": "middle", "dy": 5},
"encoding": {"y": {"field": "y", "type": "quantitative", "title": ["Catalase", "(µmol⁻¹min⁻¹ gdw)"], "axis": {"values": [0,0.5,1,1.5,2,2.5,3], "format": ".1f", "titlePadding": 11, "labelOverlap": false}}, "text": {"field": "t"}, "color": {"condition": {"test": "datum.g == 'y'", "value": "#f2e200"}, "value": "#000"}}},
{"data": {"name": "Fa"}, "transform": [{"filter": "datum.g == 'L'"}], "mark": {"type": "text", "fontSize": 21, "fontWeight": "bold", "baseline": "middle", "dx": 20},
"encoding": {"y": {"field": "y", "type": "quantitative", "title": ["Catalase", "(µmol⁻¹min⁻¹ gdw)"], "axis": {"values": [0,0.5,1,1.5,2,2.5,3], "format": ".1f", "titlePadding": 11, "labelOverlap": false}}, "text": {"field": "t"}}},
{"data": {"values": []}, "mark": {"type": "point", "filled": true, "opacity": 1, "size": 100},
"encoding": {
"color": {"field": "s", "type": "nominal", "scale": {"domain": ["NaCl treated","NaCl+PGPR strain"], "range": ["#8a8a8a","#1a1ad0"]}, "legend": {"title": null, "orient": "top-left", "offset": 4, "padding": 4, "symbolOffset": 12, "labelOffset": 17, "rowPadding": 2, "strokeColor": "#555", "fillColor": "#fff"}},
"shape": {"field": "s", "type": "nominal", "scale": {"domain": ["NaCl treated","NaCl+PGPR strain"], "range": ["M-2.9,-0.7H2.9V0.7H-2.9Z", "M-3.2,0H-2.6M-2.1,0H-1.5M1.5,0H2.1M2.6,0H3.2M-1.3,-1.1H1.3L0,1.1Z"]}, "legend": {"title": null, "orient": "top-left", "offset": 4, "padding": 4, "symbolOffset": 12, "labelOffset": 17, "rowPadding": 2, "strokeColor": "#555", "fillColor": "#fff"}},
"stroke": {"field": "s", "type": "nominal", "scale": {"domain": ["NaCl treated","NaCl+PGPR strain"], "range": ["#444","#22cc22"]}, "legend": {"title": null, "orient": "top-left", "offset": 4, "padding": 4, "symbolOffset": 12, "labelOffset": 17, "rowPadding": 2, "strokeColor": "#555", "fillColor": "#fff"}}}}
]
}
]},
{"bounds": "flush", "spacing": 10,
"resolve": {"scale": {"x":"independent","y":"independent","color":"independent","fill":"independent","shape":"independent","stroke":"independent"}},
"hconcat": [
{"width": 209, "height": 10, "data": {"values": []}, "mark": "point", "view": {"stroke": null}},
{"bounds": "flush", "spacing": 126,
"resolve": {"scale": {"x":"independent","y":"independent","color":"independent","fill":"independent","shape":"independent","stroke":"independent"}},
"hconcat": [
{
"width": 323, "height": 212,
"data": {"name": "G"},
"encoding": {"x": {"field": "nacl", "type": "nominal", "scale": {"domain": ["0%","2%","5%","10%","15%"], "paddingInner": 0.16, "paddingOuter": 0.464, "align": 0.664}, "axis": {"title": "NaCl"}}},
"layer": [
{"mark": {"type": "bar", "opacity": 1, "stroke": "#666", "strokeWidth": 0.8},
"encoding": {"y": {"field": "bar", "type": "quantitative", "title": ["Glutathione Reductase", "(µmol⁻¹min⁻¹gdw)"], "scale": {"domain": [0,12], "nice": false}, "axis": {"values": [0,2,4,6,8,10,12], "titlePadding": 11, "labelOverlap": false}},
"color": {"datum": "NaCl treated", "scale": {"domain": ["NaCl treated","NaCl+PGPR strain"], "range": ["#c8c8c8","#0d0de8"]}}}},
{"transform": [{"filter": "datum.be > 0"}], "mark": {"type": "errorbar", "color": "#000", "thickness": 1, "ticks": {"size": 12, "color": "#000"}},
"encoding": {"y": {"field": "bar", "type": "quantitative", "title": ["Glutathione Reductase", "(µmol⁻¹min⁻¹gdw)"], "axis": {"values": [0,2,4,6,8,10,12], "titlePadding": 11, "labelOverlap": false}}, "yError": {"field": "be"}}},
{"mark": {"type": "line", "color": "#ff1a1a", "strokeWidth": 1.5},
"encoding": {"y": {"field": "pt", "type": "quantitative", "title": ["Glutathione Reductase", "(µmol⁻¹min⁻¹gdw)"], "axis": {"values": [0,2,4,6,8,10,12], "titlePadding": 11, "labelOverlap": false}}}},
{"transform": [{"filter": "datum.pe > 0"}], "mark": {"type": "errorbar", "color": "#000", "thickness": 1, "ticks": {"size": 12, "color": "#000"}},
"encoding": {"y": {"field": "pt", "type": "quantitative", "title": ["Glutathione Reductase", "(µmol⁻¹min⁻¹gdw)"], "axis": {"values": [0,2,4,6,8,10,12], "titlePadding": 11, "labelOverlap": false}}, "yError": {"field": "pe"}}},
{"mark": {"type": "point", "filled": true, "shape": "M0,-1L0.866,-0.5L0.866,0.5L0,1L-0.866,0.5L-0.866,-0.5Z", "size": 169, "opacity": 1, "stroke": "#000033", "strokeWidth": 1},
"encoding": {"y": {"field": "pt", "type": "quantitative", "title": ["Glutathione Reductase", "(µmol⁻¹min⁻¹gdw)"], "axis": {"values": [0,2,4,6,8,10,12], "titlePadding": 11, "labelOverlap": false}},
"color": {"datum": "NaCl+PGPR strain", "scale": {"domain": ["NaCl treated","NaCl+PGPR strain"], "range": ["#c8c8c8","#0d0de8"]}}}},
{"data": {"name": "Ga"}, "transform": [{"filter": "datum.t == '#'"}], "mark": {"type": "text", "fontSize": 17, "fontWeight": "bold", "baseline": "middle"},
"encoding": {"y": {"field": "y", "type": "quantitative", "title": ["Glutathione Reductase", "(µmol⁻¹min⁻¹gdw)"], "axis": {"values": [0,2,4,6,8,10,12], "titlePadding": 11, "labelOverlap": false}}, "text": {"field": "t"}, "color": {"condition": {"test": "datum.g == 'y'", "value": "#f2e200"}, "value": "#000"}}},
{"data": {"name": "Ga"}, "transform": [{"filter": "datum.t == '*' || datum.t == '**'"}], "mark": {"type": "text", "fontSize": 17, "fontWeight": "bold", "baseline": "middle", "dy": 5},
"encoding": {"y": {"field": "y", "type": "quantitative", "title": ["Glutathione Reductase", "(µmol⁻¹min⁻¹gdw)"], "axis": {"values": [0,2,4,6,8,10,12], "titlePadding": 11, "labelOverlap": false}}, "text": {"field": "t"}, "color": {"condition": {"test": "datum.g == 'y'", "value": "#f2e200"}, "value": "#000"}}},
{"data": {"name": "Ga"}, "transform": [{"filter": "datum.g == 'L'"}], "mark": {"type": "text", "fontSize": 21, "fontWeight": "bold", "baseline": "middle", "dx": 30},
"encoding": {"y": {"field": "y", "type": "quantitative", "title": ["Glutathione Reductase", "(µmol⁻¹min⁻¹gdw)"], "axis": {"values": [0,2,4,6,8,10,12], "titlePadding": 11, "labelOverlap": false}}, "text": {"field": "t"}}},
{"data": {"values": []}, "mark": {"type": "point", "filled": true, "opacity": 1, "size": 100},
"encoding": {
"color": {"field": "s", "type": "nominal", "scale": {"domain": ["NaCl treated","NaCl+PGPR strain"], "range": ["#c8c8c8","#0d0de8"]}, "legend": {"title": null, "orient": "top-left", "offset": 5, "padding": 4, "symbolOffset": 11, "labelOffset": 15, "rowPadding": 1, "strokeColor": "#555", "fillColor": "#fff"}},
"shape": {"field": "s", "type": "nominal", "scale": {"domain": ["NaCl treated","NaCl+PGPR strain"], "range": ["M-3.1,-0.7H3.1V0.7H-3.1Z", "M-3.3,0H-1.13M1.13,0H3.3M0,-1.3L1.13,-0.65L1.13,0.65L0,1.3L-1.13,0.65L-1.13,-0.65Z"]}, "legend": {"title": null, "orient": "top-left", "offset": 5, "padding": 4, "symbolOffset": 11, "labelOffset": 15, "rowPadding": 1, "strokeColor": "#555", "fillColor": "#fff"}},
"stroke": {"field": "s", "type": "nominal", "scale": {"domain": ["NaCl treated","NaCl+PGPR strain"], "range": ["#444","#ff1a1a"]}, "legend": {"title": null, "orient": "top-left", "offset": 5, "padding": 4, "symbolOffset": 11, "labelOffset": 15, "rowPadding": 1, "strokeColor": "#555", "fillColor": "#fff"}}}}
]
},
{
"width": 337, "height": 212,
"data": {"name": "H"},
"encoding": {"x": {"field": "nacl", "type": "nominal", "scale": {"domain": ["0%","2%","5%","10%","15%"], "paddingInner": 0.16, "paddingOuter": 0.589, "align": 0.508}, "axis": {"title": "NaCl"}}},
"layer": [
{"mark": {"type": "bar", "opacity": 1, "stroke": "#555", "strokeWidth": 0.8},
"encoding": {"y": {"field": "bar", "type": "quantitative", "title": ["Superoxide dismutase", "(µmol⁻¹min⁻¹gdw)"], "scale": {"domain": [0,18], "nice": false}, "axis": {"values": [0,2,4,6,8,10,12,14,16,18], "titlePadding": 13, "labelOverlap": false}},
"fill": {"field": "nacl", "type": "nominal", "scale": {"domain": ["0%","2%","5%","10%","15%"], "range": ["#000000","#ff0000","#00ee00","#ffff00","#0000ff"]}, "legend": null}}},
{"transform": [{"filter": "datum.be > 0"}], "mark": {"type": "errorbar", "color": "#000", "thickness": 1, "ticks": {"size": 12, "color": "#000"}},
"encoding": {"y": {"field": "bar", "type": "quantitative", "title": ["Superoxide dismutase", "(µmol⁻¹min⁻¹gdw)"], "axis": {"values": [0,2,4,6,8,10,12,14,16,18], "titlePadding": 13, "labelOverlap": false}}, "yError": {"field": "be"}}},
{"mark": {"type": "line", "color": "#f5f500", "strokeWidth": 1.5},
"encoding": {"y": {"field": "pt", "type": "quantitative", "title": ["Superoxide dismutase", "(µmol⁻¹min⁻¹gdw)"], "axis": {"values": [0,2,4,6,8,10,12,14,16,18], "titlePadding": 13, "labelOverlap": false}}}},
{"transform": [{"filter": "datum.pe > 0"}], "mark": {"type": "errorbar", "color": "#000", "thickness": 1, "ticks": {"size": 12, "color": "#000"}},
"encoding": {"y": {"field": "pt", "type": "quantitative", "title": ["Superoxide dismutase", "(µmol⁻¹min⁻¹gdw)"], "axis": {"values": [0,2,4,6,8,10,12,14,16,18], "titlePadding": 13, "labelOverlap": false}}, "yError": {"field": "pe"}}},
{"mark": {"type": "point", "filled": true, "shape": "M0,-1L0.866,-0.5L0.866,0.5L0,1L-0.866,0.5L-0.866,-0.5Z", "size": 169, "opacity": 1, "stroke": "#000", "strokeWidth": 1},
"encoding": {"y": {"field": "pt", "type": "quantitative", "title": ["Superoxide dismutase", "(µmol⁻¹min⁻¹gdw)"], "axis": {"values": [0,2,4,6,8,10,12,14,16,18], "titlePadding": 13, "labelOverlap": false}},
"color": {"datum": "NaCl+PGPR strain", "scale": {"domain": ["NaCl treated","NaCl+PGPR strain"], "range": ["#ff00ff","#ffffff"]}}}},
{"data": {"name": "Ha"}, "transform": [{"filter": "datum.t == '#'"}], "mark": {"type": "text", "fontSize": 17, "fontWeight": "bold", "baseline": "middle"},
"encoding": {"y": {"field": "y", "type": "quantitative", "title": ["Superoxide dismutase", "(µmol⁻¹min⁻¹gdw)"], "axis": {"values": [0,2,4,6,8,10,12,14,16,18], "titlePadding": 13, "labelOverlap": false}}, "text": {"field": "t"}, "color": {"condition": {"test": "datum.g == 'y'", "value": "#f2e200"}, "value": "#000"}}},
{"data": {"name": "Ha"}, "transform": [{"filter": "datum.t == '*' || datum.t == '**'"}], "mark": {"type": "text", "fontSize": 17, "fontWeight": "bold", "baseline": "middle", "dy": 5},
"encoding": {"y": {"field": "y", "type": "quantitative", "title": ["Superoxide dismutase", "(µmol⁻¹min⁻¹gdw)"], "axis": {"values": [0,2,4,6,8,10,12,14,16,18], "titlePadding": 13, "labelOverlap": false}}, "text": {"field": "t"}, "color": {"condition": {"test": "datum.g == 'y'", "value": "#f2e200"}, "value": "#000"}}},
{"data": {"name": "Ha"}, "transform": [{"filter": "datum.g == 'L'"}], "mark": {"type": "text", "fontSize": 21, "fontWeight": "bold", "baseline": "middle", "dx": 20},
"encoding": {"y": {"field": "y", "type": "quantitative", "title": ["Superoxide dismutase", "(µmol⁻¹min⁻¹gdw)"], "axis": {"values": [0,2,4,6,8,10,12,14,16,18], "titlePadding": 13, "labelOverlap": false}}, "text": {"field": "t"}}},
{"data": {"values": []}, "mark": {"type": "point", "filled": true, "opacity": 1, "size": 100},
"encoding": {
"color": {"field": "s", "type": "nominal", "scale": {"domain": ["NaCl treated","NaCl+PGPR strain"], "range": ["#ff00ff","#ffffff"]}, "legend": {"title": null, "orient": "top-left", "offset": 3, "padding": 4, "symbolOffset": 12, "labelOffset": 15, "rowPadding": 2, "strokeColor": "#555", "fillColor": "#fff"}},
"shape": {"field": "s", "type": "nominal", "scale": {"domain": ["NaCl treated","NaCl+PGPR strain"], "range": ["M-3,-0.7H3V0.7H-3Z", "M-3.3,0H-1.13M1.13,0H3.3M0,-1.3L1.13,-0.65L1.13,0.65L0,1.3L-1.13,0.65L-1.13,-0.65Z"]}, "legend": {"title": null, "orient": "top-left", "offset": 3, "padding": 4, "symbolOffset": 12, "labelOffset": 15, "rowPadding": 2, "strokeColor": "#555", "fillColor": "#fff"}},
"stroke": {"field": "s", "type": "nominal", "scale": {"domain": ["NaCl treated","NaCl+PGPR strain"], "range": ["#333","#c8b800"]}, "legend": {"title": null, "orient": "top-left", "offset": 3, "padding": 4, "symbolOffset": 12, "labelOffset": 15, "rowPadding": 2, "strokeColor": "#555", "fillColor": "#fff"}}}}
]
}
]}
]}
],
"config": {
"font": "Liberation Sans",
"view": {"stroke": "#8c8c8c", "strokeWidth": 1},
"axis": {"labelFont": "Liberation Sans", "titleFont": "Liberation Sans", "labelFontWeight": "bold", "titleFontWeight": "bold", "labelColor": "#000", "titleColor": "#000", "domainColor": "#000", "tickColor": "#000", "grid": false, "domainWidth": 1.2},
"axisX": {"ticks": false, "labelAngle": 0, "labelFontSize": 15, "titleFontSize": 16, "labelPadding": 10, "titlePadding": 10},
"axisY": {"labelFontSize": 16, "titleFontSize": 18, "tickSize": 5, "labelPadding": 7, "titleLineHeight": 31, "labelOverlap": false},
"legend": {"labelFont": "Liberation Sans", "labelFontWeight": "bold", "labelFontSize": 12, "labelColor": "#000", "symbolSize": 100, "symbolStrokeWidth": 1}
}
}
